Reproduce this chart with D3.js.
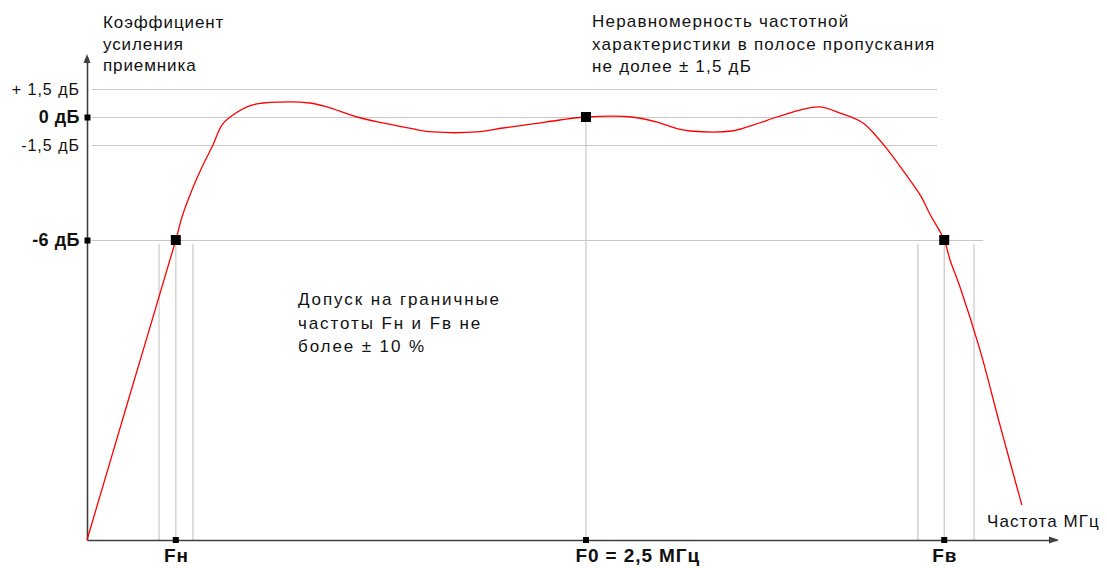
<!DOCTYPE html>
<html>
<head>
<meta charset="utf-8">
<script src="https://cdn.jsdelivr.net/npm/d3@7"></script>
<style>
  body { margin: 0; background: #fff; }
  svg { display: block; font-family: "Liberation Sans", Arial, sans-serif; }
  .note { font-size: 17px; fill: #111; }
  .tick text { fill: #111; }
</style>
</head>
<body>
<div id="chart"></div>
<script>
// frequency response of the receiver (MHz -> dB, schematic)
const freq = [0, 0.222, 0.445, 0.476, 0.526, 0.581, 0.631, 0.676, 0.731, 0.827, 0.967, 1.117, 1.202, 1.353, 1.483,
  1.633, 1.733, 1.954, 2.084, 2.234, 2.370, 2.5, 2.730, 2.856, 2.961, 3.021, 3.231, 3.337, 3.457, 3.572,
  3.672, 3.773, 3.888, 3.958, 4.013, 4.098, 4.178, 4.223, 4.295, 4.324, 4.374, 4.474, 4.574, 4.684];
const gain = [-20, -13, -6, -4.91, -3.63, -2.45, -1.5, -0.43, 0.11, 0.64, 0.80, 0.75, 0.54, 0, -0.32,
  -0.64, -0.80, -0.80, -0.59, -0.37, -0.16, 0, 0, -0.27, -0.64, -0.75, -0.75, -0.43, 0, 0.37,
  0.54, 0.21, -0.32, -1.07, -1.74, -2.83, -3.92, -4.77, -6, -6.93, -8.19, -11.13, -14.63, -18.37];

// key points on the curve
const keyFreq = [0.445, 2.5, 4.295];
const keyGain = [-6, 0, -6];

// +-10% tolerance of the cutoff frequencies
const tolFreq = [0.361, 0.531, 4.163, 4.444];

// y ticks
const yTickValues = [1.5, 0, -1.5, -6];
const yTickLabels = ['+ 1,5 дБ', '0 дБ', '-1,5 дБ', '-6 дБ'];
const yTickBold = [false, true, false, true];

// x ticks
const xTickValues = [0.445, 2.5, 4.295];
const xTickLabels = ['Fн', 'F0 = 2,5 МГц', 'Fв'];

// horizontal guide lines
const gridLevels = [1.5, 0, -1.5, -6];
const gridEnd = [4.26, 4.26, 4.26, 4.49];

const CONSTANTS = {
    WIDTH: 1107,
    HEIGHT: 568,
    ORIGIN_X: 87,
    ORIGIN_Y: 540,
    GRID: '#c8c8c8',
    AXIS: '#404040',
    CURVE: '#ff0000'
};

let svg = d3.select('#chart').append('svg')
    .attr('width', CONSTANTS.WIDTH)
    .attr('height', CONSTANTS.HEIGHT);

//scales (the picture is schematic, so y is piecewise)
let x = d3.scaleLinear()
    .domain([0, 4.86])
    .range([CONSTANTS.ORIGIN_X, 1057]);
let y = d3.scaleLinear()
    .domain([-20, -6, -1.5, 1.5, 3.2])
    .range([CONSTANTS.ORIGIN_Y, 240, 145, 89, 57]);

//horizontal guide lines
svg.append('g').selectAll('line')
    .data(gridLevels)
    .enter()
    .append('line')
    .attr('x1', x(0.025))
    .attr('x2', (d, i) => x(gridEnd[i]))
    .attr('y1', d => y(d) + 0.5)
    .attr('y2', d => y(d) + 0.5)
    .style('stroke', CONSTANTS.GRID)
    .style('stroke-width', 1.2);

//vertical lines down from the key points
svg.append('g').selectAll('line')
    .data(keyFreq)
    .enter()
    .append('line')
    .attr('x1', d => x(d))
    .attr('x2', d => x(d))
    .attr('y1', (d, i) => y(keyGain[i]))
    .attr('y2', y(-20))
    .style('stroke', CONSTANTS.GRID)
    .style('stroke-width', 1.2);

svg.append('g').selectAll('line')
    .data(tolFreq)
    .enter()
    .append('line')
    .attr('x1', d => x(d))
    .attr('x2', d => x(d))
    .attr('y1', y(-6) + 4)
    .attr('y2', y(-20))
    .style('stroke', CONSTANTS.GRID)
    .style('stroke-width', 1.2);

//axes
let yAxis = d3.axisLeft(y)
    .tickValues(yTickValues)
    .tickFormat((d, i) => yTickLabels[i])
    .tickSize(0)
    .tickSizeOuter(0)
    .tickPadding(7);
let gy = svg.append('g')
    .attr('transform', 'translate(' + CONSTANTS.ORIGIN_X + ',0)')
    .call(yAxis);
gy.selectAll('.tick text')
    .style('font-family', '"Liberation Sans", Arial, sans-serif')
    .style('font-size', (d, i) => yTickBold[i] ? '18px' : '16px')
    .style('font-weight', (d, i) => yTickBold[i] ? 'bold' : 'normal')
    .style('letter-spacing', (d, i) => yTickBold[i] ? '0.5px' : '1px');

let xAxis = d3.axisBottom(x)
    .tickValues(xTickValues)
    .tickFormat((d, i) => xTickLabels[i])
    .tickSize(0)
    .tickSizeOuter(0)
    .tickPadding(9);
let gx = svg.append('g')
    .attr('transform', 'translate(0,' + CONSTANTS.ORIGIN_Y + ')')
    .call(xAxis);
gx.selectAll('.tick text')
    .style('font-family', '"Liberation Sans", Arial, sans-serif')
    .style('font-size', '19px')
    .style('font-weight', 'bold')
    .style('letter-spacing', '0.9px')
    .attr('text-anchor', (d, i) => i === 1 ? 'start' : 'middle')
    .attr('x', (d, i) => i === 1 ? -11 : 0);

svg.selectAll('.domain')
    .style('stroke', CONSTANTS.AXIS)
    .style('stroke-width', 1.6);

//arrow heads
let yTop = y.range()[4];
let xEnd = x.range()[1];
svg.append('path')
    .attr('d', 'M' + CONSTANTS.ORIGIN_X + ',' + (yTop - 3) + 'l-3.5,9h7z')
    .style('fill', CONSTANTS.AXIS);
svg.append('path')
    .attr('d', 'M' + (xEnd + 2) + ',' + CONSTANTS.ORIGIN_Y + 'l-10,-3.5v7z')
    .style('fill', CONSTANTS.AXIS);

//the response curve
let line = d3.line()
    .x(d => x(d[0]))
    .y(d => y(d[1]))
    .curve(d3.curveCatmullRom.alpha(0.5));
svg.append('path')
    .datum(freq.map((f, i) => [f, gain[i]]))
    .attr('d', line)
    .style('fill', 'none')
    .style('stroke', CONSTANTS.CURVE)
    .style('stroke-width', 1.3);

//markers on the curve
svg.append('g').selectAll('rect')
    .data(keyFreq)
    .enter()
    .append('rect')
    .attr('x', d => x(d) - 5)
    .attr('y', (d, i) => y(keyGain[i]) - 5)
    .attr('width', 10)
    .attr('height', 10)
    .style('fill', '#000');

//small markers on the axes
svg.append('g').selectAll('rect')
    .data([0, -6])
    .enter()
    .append('rect')
    .attr('x', CONSTANTS.ORIGIN_X - 2.5)
    .attr('y', d => y(d) - 2.5)
    .attr('width', 6)
    .attr('height', 6)
    .style('fill', '#000');
svg.append('g').selectAll('rect')
    .data(keyFreq)
    .enter()
    .append('rect')
    .attr('x', d => x(d) - 3)
    .attr('y', CONSTANTS.ORIGIN_Y - 3)
    .attr('width', 6)
    .attr('height', 6)
    .style('fill', '#000');

//text notes
function addNote(lines, px, py, step, spacing){
    let t = svg.append('text')
        .attr('class', 'note')
        .attr('x', px)
        .attr('y', py)
        .style('letter-spacing', spacing + 'px');
    lines.forEach((s, i) => {
        t.append('tspan')
            .attr('x', px)
            .attr('dy', i === 0 ? 0 : step)
            .text(s);
    });
}

addNote(['Коэффициент', 'усиления', 'приемника'], 103, 28, 21.5, 0.9);
addNote(['Неравномерность частотной', 'характеристики в полосе пропускания', 'не долее ± 1,5 дБ'], 592, 27, 22.5, 1.2);
addNote(['Допуск на граничные', 'частоты Fн и Fв не', 'более  ± 10 %'], 298, 305, 23.5, 1.9);
addNote(['Частота МГц'], 987, 527, 0, 1.1);
</script>
</body>
</html>
